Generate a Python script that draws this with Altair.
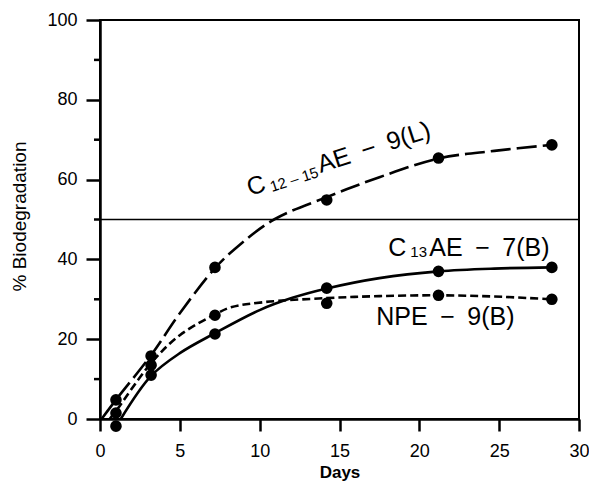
import altair as alt
import pandas as pd

# ---- data ----
days = [1.0, 3.2, 7.2, 14.2, 21.2, 28.3]
c1215_pts = [4.8, 15.8, 38.0, 54.9, 65.4, 68.7]
c13_pts = [-1.8, 11.0, 21.3, 32.8, 37.0, 38.0]
npe_pts = [1.5, 13.5, 26.0, 29.0, 31.0, 30.0]

# fitted curves as drawn in the reference
c1215_curve_x = [0.1, 1.0, 3.2, 5.0, 7.2, 8.5, 10.9, 14.2, 17.5, 21.2, 24.7, 28.3]
c1215_curve_y = [0.0, 4.8, 16.0, 26.5, 37.8, 42.8, 50.0, 55.6, 60.6, 65.3, 67.2, 68.7]
c13_curve_x = [1.3, 3.2, 5.0, 7.2, 10.0, 12.0, 14.2, 17.5, 21.2, 24.7, 28.3]
c13_curve_y = [0.0, 10.8, 16.5, 21.5, 27.3, 30.3, 32.7, 35.3, 37.0, 37.7, 38.0]
npe_curve_x = [0.6, 1.0, 3.2, 5.0, 7.2, 8.2, 10.3, 14.2, 17.5, 21.2, 24.7, 28.3]
npe_curve_y = [0.0, 2.0, 14.0, 21.0, 26.2, 28.0, 29.3, 30.3, 30.8, 31.0, 30.7, 30.0]

threshold = [50]
x_ticks = [0, 5, 10, 15, 20, 25, 30]
y_major = [0, 20, 40, 60, 80, 100]
y_minor = [10, 30, 50, 70, 90]

# annotation anchors (data units) and texts
lab1_pos = (9.4, 55.9)
lab1_parts = ["C", "12 \u2013 15", "AE\u2002\u2212\u20029(L)"]
lab2_pos = (18.06, 40.9)
lab2_parts = ["C", "13", "AE\u2002\u2212\u20027(B)"]
lab3_pos = (17.3, 23.6)
lab3_parts = ["NPE\u2002\u2212\u20029(B)"]

FONT = "Liberation Sans"
W, H = 479, 399
xs = alt.Scale(domain=[0, 30], nice=False, zero=False)
ys = alt.Scale(domain=[0, 100], nice=False, zero=False)

xaxis = alt.Axis(
    values=x_ticks, grid=False, tickSize=12, tickWidth=2.5, tickColor="black",
    domainColor="black", domainWidth=2.5, labelFont=FONT, labelFontSize=18,
    labelColor="black", labelPadding=11, labelFlush=False,
    title="Days", titleFont=FONT, titleFontSize=17, titleFontWeight="bold",
    titleColor="black", titleX=W / 2, titleY=58, titleAlign="center",
    titleBaseline="alphabetic",
)
yaxis = alt.Axis(
    orient="left", values=y_major, grid=False, tickSize=14,
    tickWidth=2.5, tickColor="black", domainColor="black", domainWidth=2.5,
    labelFont=FONT, labelFontSize=18, labelColor="black", labelPadding=9,
    title="% Biodegradation", titleFont=FONT, titleFontSize=19,
    titleFontWeight="normal", titleColor="black", titleAngle=270,
    titleX=-75, titleY=196, titleAlign="center", titleBaseline="alphabetic",
)

X = lambda f: alt.X(f, scale=xs, axis=xaxis)
Y = lambda f: alt.Y(f, scale=ys, axis=yaxis)

rule = alt.Chart(pd.DataFrame({"v": threshold})).mark_rule(
    color="black", strokeWidth=1.6
).encode(y=Y("v:Q"))

# minor (unlabelled) y ticks, drawn outward from the axis line
minor_ticks = alt.Chart(pd.DataFrame({"v": y_minor})).mark_rule(
    color="black", strokeWidth=2.5
).encode(y=Y("v:Q"), x=alt.value(-6), x2=alt.value(0))


def curve(xv, yv, dash=None):
    df = pd.DataFrame({"d": xv, "v": yv})
    kw = dict(color="black", strokeWidth=2.6, interpolate="catmull-rom")
    if dash:
        kw["strokeDash"] = dash
    return alt.Chart(df).mark_line(**kw).encode(x=X("d:Q"), y=Y("v:Q"))


def points(yv):
    df = pd.DataFrame({"d": days, "v": yv})
    return alt.Chart(df).mark_circle(color="black", size=135, opacity=1).encode(
        x=X("d:Q"), y=Y("v:Q")
    )


def text(pos, s, size, dx=0, dy=0, angle=0):
    df = pd.DataFrame({"d": [pos[0]], "v": [pos[1]], "t": [s]})
    return alt.Chart(df).mark_text(
        font=FONT, fontSize=size, color="black", align="left",
        baseline="alphabetic", dx=dx, dy=dy, angle=angle,
    ).encode(x=X("d:Q"), y=Y("v:Q"), text="t:N")


layers = [
    rule,
    minor_ticks,
    curve(c1215_curve_x, c1215_curve_y, [20, 6]),
    curve(c13_curve_x, c13_curve_y),
    curve(npe_curve_x, npe_curve_y, [8, 4]),
    points(c1215_pts),
    points(c13_pts),
    points(npe_pts),
    text(lab1_pos, lab1_parts[0], 25, 0, 0, 342),
    text(lab1_pos, lab1_parts[1], 15, 22, 3, 342),
    text(lab1_pos, lab1_parts[2], 25, 74, 0, 342),
    text(lab2_pos, lab2_parts[0], 25, 0, 0),
    text(lab2_pos, lab2_parts[1], 15, 22, 1),
    text(lab2_pos, lab2_parts[2], 25, 41, 0),
    text(lab3_pos, lab3_parts[0], 25, 0, 0),
]

chart = alt.layer(*layers).properties(
    width=W, height=H,
    autosize=alt.AutoSizeParams(type="none"),
    padding={"left": 92, "top": 12, "right": 10, "bottom": 62},
    background="white",
).configure_view(stroke="black", strokeWidth=2)

chart.save("out.html", embed_options={"renderer": "svg", "actions": False})
